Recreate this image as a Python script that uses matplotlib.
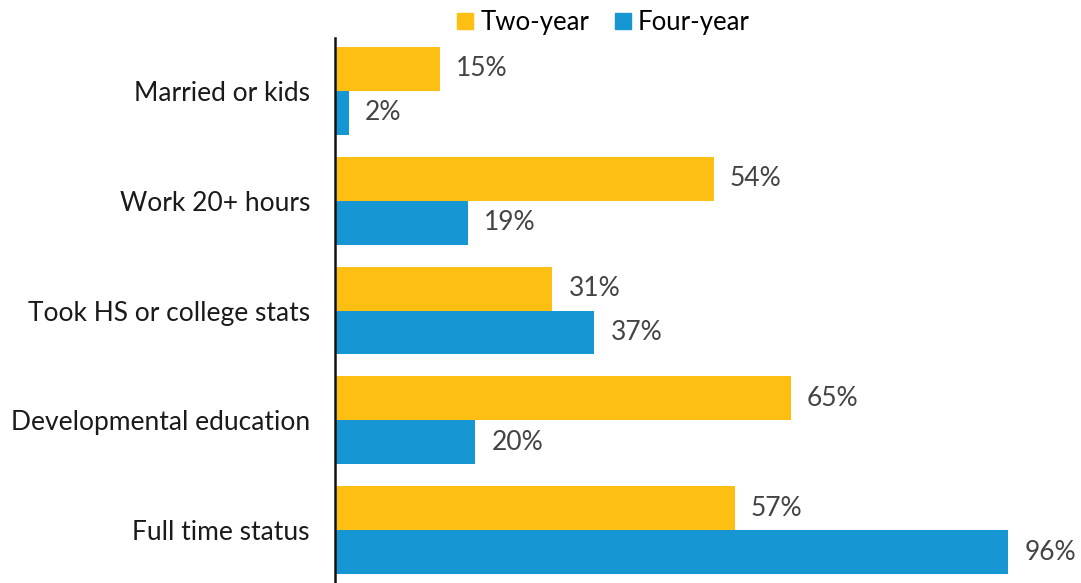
import matplotlib.pyplot as plt
import numpy as np
from matplotlib.lines import Line2D

plt.rcParams['font.family'] = ['Lato', 'DejaVu Sans']

categories = ['Married or kids', 'Work 20+ hours', 'Took HS or college stats',
              'Developmental education', 'Full time status']
two_year = [15, 54, 31, 65, 57]
four_year = [2, 19, 37, 20, 96]

yellow = '#fdbf11'
blue = '#1696d2'

fig = plt.figure(figsize=(10.81, 5.83), dpi=100)
ax = fig.add_axes([335 / 1081, 0, 1 - 335 / 1081, (583 - 38) / 583])

y = np.arange(len(categories))
h = 0.4
ax.barh(y - h / 2, two_year, height=h, color=yellow, label='Two-year')
ax.barh(y + h / 2, four_year, height=h, color=blue, label='Four-year')

for yi, v in zip(y, two_year):
    ax.text(v + 2.3, yi - h / 2, f'{v}%', va='center', ha='left', fontsize=19, color='#444444')
for yi, v in zip(y, four_year):
    ax.text(v + 2.3, yi + h / 2, f'{v}%', va='center', ha='left', fontsize=19, color='#444444')

ax.set_xlim(0, 106.4)
ax.set_ylim(4.48, -0.48)
ax.set_yticks(y)
ax.set_yticklabels(categories, fontsize=19, color='#1a1a1a')
ax.tick_params(axis='y', length=0, pad=18)
ax.set_xticks([])
for s in ['top', 'right', 'bottom']:
    ax.spines[s].set_visible(False)
ax.spines['left'].set_linewidth(1.8)
ax.spines['left'].set_color('#111111')

handles = [Line2D([], [], marker='s', linestyle='', markersize=11, color=yellow),
           Line2D([], [], marker='s', linestyle='', markersize=11, color=blue)]
fig.legend(handles, ['Two-year', 'Four-year'], loc='center', bbox_to_anchor=(0.556, 0.962),
           ncol=2, frameon=False, fontsize=18.5, handletextpad=0.1, columnspacing=0.8,
           handlelength=1.0)

fig.savefig('out.png', dpi=100)
